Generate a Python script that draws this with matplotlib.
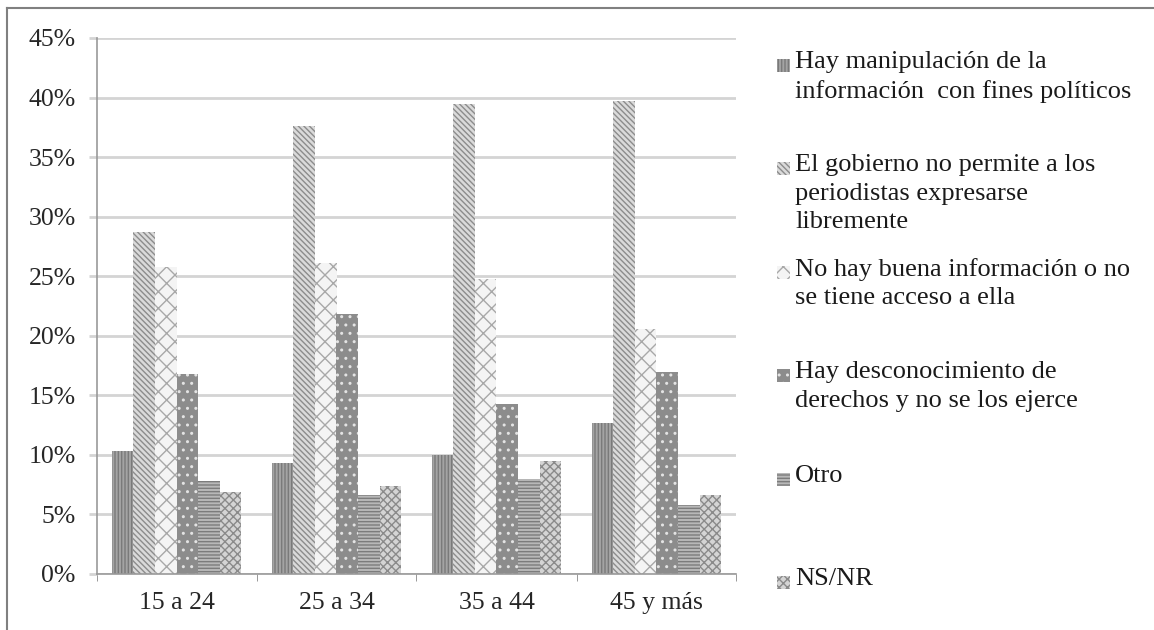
import matplotlib.pyplot as plt
import numpy as np
from matplotlib.patches import Rectangle
from matplotlib.lines import Line2D

plt.rcParams['font.family'] = ['Liberation Serif', 'DejaVu Serif']
plt.rcParams['hatch.linewidth'] = 1.0

groups = ['15 a 24', '25 a 34', '35 a 44', '45 y más']
series = [
    'Hay manipulación de la\ninformación  con fines políticos',
    'El gobierno no permite a los\nperiodistas expresarse\nlibremente',
    'No hay buena información o no\nse tiene acceso a ella',
    'Hay desconocimiento de\nderechos y no se los ejerce',
    'Otro',
    'NS/NR',
]
values = [
    [10.3, 9.3, 10.0, 12.7],
    [28.7, 37.6, 39.5, 39.7],
    [25.8, 26.1, 24.8, 20.6],
    [16.8, 21.8, 14.3, 17.0],
    [7.8, 6.6, 8.0, 5.8],
    [6.9, 7.4, 9.5, 6.6],
]

# fill colour, hatch colour, hatch
styles = [
    ('#a4a4a4', '#7a7a7a', '|||||'),
    ('#dadada', '#8c8c8c', '\\\\\\\\\\\\'),
    ('#f4f4f4', '#a8a8a8', 'xx'),
    ('#8c8c8c', '#e4e4e4', '..'),
    ('#b8b8b8', '#7c7c7c', '-----'),
    ('#d4d4d4', '#8a8a8a', 'xxxx'),
]

fig = plt.figure(figsize=(11.54, 6.30), dpi=100)
ax = fig.add_axes([96.5 / 1154, 56 / 630, 640 / 1154, 536 / 630])

x = np.arange(len(groups))
w = 0.81 / len(series)
for i, (name, vals) in enumerate(zip(series, values)):
    fc, hc, h = styles[i]
    ax.bar(x - 0.405 + w * (i + 0.5), vals, w, color=fc, edgecolor=hc,
           hatch=h, linewidth=0, zorder=2)

ax.set_xlim(-0.5, len(groups) - 0.5)
ax.set_ylim(0, 45)
ax.set_yticks(np.arange(0, 46, 5))
ax.set_yticklabels([f'{v}%' for v in range(0, 46, 5)], fontsize=18.5, color='#262626')
ax.set_xticks(x)
ax.set_xticklabels(groups, fontsize=18.5, color='#262626')
ax.set_xticks(np.arange(-0.5, len(groups), 1), minor=True)
ax.tick_params(axis='x', which='major', length=0, pad=13)
ax.tick_params(axis='x', which='minor', length=5, color='#888888')
ax.tick_params(axis='y', length=6, width=2, color='#d4d4d4', pad=9)
ax.grid(axis='y', color='#d4d4d4', linewidth=2, zorder=0)
for s in ['right', 'top']:
    ax.spines[s].set_visible(False)
for s in ['left', 'bottom']:
    ax.spines[s].set_color('#999999')
    ax.spines[s].set_linewidth(1.2)

# legend, evenly spaced like the original
first = 72
step = 103.4
for i, name in enumerate(series):
    fc, hc, h = styles[i]
    base = 1 - (first + i * step) / 630
    fig.patches.append(Rectangle((777 / 1154, base), 13 / 1154, 13 / 630,
                                 transform=fig.transFigure, facecolor=fc,
                                 edgecolor=hc, hatch=h, linewidth=0))
    fig.text(795 / 1154, base + 21 / 630, name, fontsize=19, va='top', ha='left',
             linespacing=1.38, color='#1a1a1a')

# frame only on the top and left, as in the source image
fig.add_artist(Line2D([7 / 1154, 1], [1 - 8 / 630, 1 - 8 / 630],
                      transform=fig.transFigure, color='#808080', linewidth=1.5))
fig.add_artist(Line2D([7 / 1154, 7 / 1154], [0, 1 - 8 / 630],
                      transform=fig.transFigure, color='#808080', linewidth=1.5))

fig.savefig('out.png', dpi=100)
